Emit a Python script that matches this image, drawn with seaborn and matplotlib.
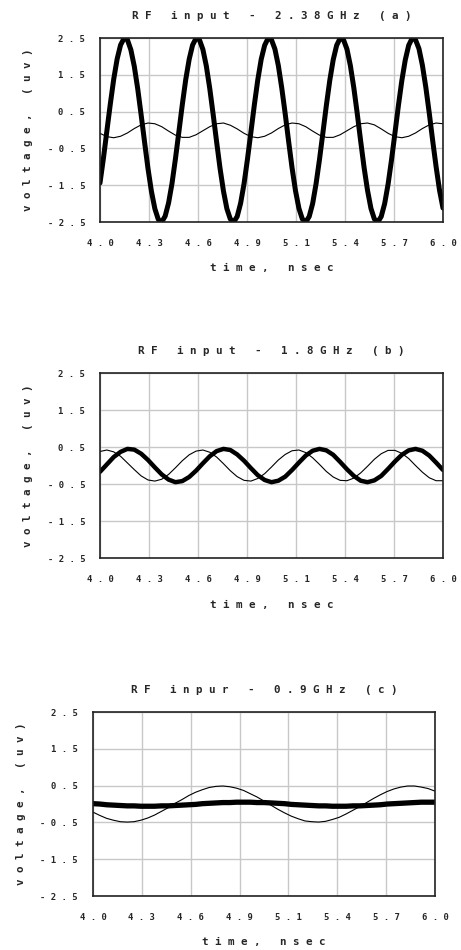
import matplotlib
matplotlib.use('Agg')
import matplotlib.pyplot as plt
import numpy as np
import seaborn as sns

# sample times (ns), shared by most traces
time_ns = [4.00, 4.04, 4.08, 4.12, 4.16, 4.20, 4.24, 4.28, 4.32, 4.36,
           4.40, 4.44, 4.48, 4.52, 4.56, 4.60, 4.64, 4.68, 4.72, 4.76,
           4.80, 4.84, 4.88, 4.92, 4.96, 5.00, 5.04, 5.08, 5.12, 5.16,
           5.20, 5.24, 5.28, 5.32, 5.36, 5.40, 5.44, 5.48, 5.52, 5.56,
           5.60, 5.64, 5.68, 5.72, 5.76, 5.80, 5.84, 5.88, 5.92, 5.96, 6.00]

# finer sampling for the large 2.38 GHz trace
time_fine = [4.00, 4.02, 4.04, 4.06, 4.08, 4.10, 4.12, 4.14, 4.16, 4.18,
             4.20, 4.22, 4.24, 4.26, 4.28, 4.30, 4.32, 4.34, 4.36, 4.38,
             4.40, 4.42, 4.44, 4.46, 4.48, 4.50, 4.52, 4.54, 4.56, 4.58,
             4.60, 4.62, 4.64, 4.66, 4.68, 4.70, 4.72, 4.74, 4.76, 4.78,
             4.80, 4.82, 4.84, 4.86, 4.88, 4.90, 4.92, 4.94, 4.96, 4.98,
             5.00, 5.02, 5.04, 5.06, 5.08, 5.10, 5.12, 5.14, 5.16, 5.18,
             5.20, 5.22, 5.24, 5.26, 5.28, 5.30, 5.32, 5.34, 5.36, 5.38,
             5.40, 5.42, 5.44, 5.46, 5.48, 5.50, 5.52, 5.54, 5.56, 5.58,
             5.60, 5.62, 5.64, 5.66, 5.68, 5.70, 5.72, 5.74, 5.76, 5.78,
             5.80, 5.82, 5.84, 5.86, 5.88, 5.90, 5.92, 5.94, 5.96, 5.98, 6.00]

# (a) 2.38 GHz
a_thick = [-1.44, -0.77, -0.03, 0.70, 1.38, 1.93, 2.31, 2.49, 2.45, 2.18,
           1.73, 1.12, 0.41, -0.33, -1.05, -1.67, -2.14, -2.43, -2.50, -2.34,
           -1.98, -1.45, -0.78, -0.05, 0.69, 1.37, 1.92, 2.31, 2.49, 2.45,
           2.19, 1.74, 1.13, 0.42, -0.32, -1.04, -1.66, -2.14, -2.42, -2.50,
           -2.35, -1.99, -1.46, -0.79, -0.06, 0.68, 1.36, 1.92, 2.30, 2.49,
           2.45, 2.20, 1.75, 1.14, 0.44, -0.31, -1.03, -1.65, -2.13, -2.42,
           -2.50, -2.35, -2.00, -1.46, -0.80, -0.07, 0.67, 1.35, 1.91, 2.30,
           2.49, 2.45, 2.20, 1.75, 1.15, 0.45, -0.30, -1.02, -1.64, -2.13,
           -2.42, -2.50, -2.35, -2.00, -1.47, -0.81, -0.08, 0.66, 1.34, 1.90,
           2.30, 2.49, 2.45, 2.21, 1.76, 1.16, 0.46, -0.29, -1.00, -1.64, -2.12]
a_thin = [-0.09, -0.18, -0.21, -0.17, -0.08, 0.04, 0.14, 0.19, 0.17, 0.09,
          -0.03, -0.14, -0.20, -0.20, -0.13, -0.02, 0.09, 0.17, 0.19, 0.13,
          0.03, -0.09, -0.18, -0.21, -0.17, -0.08, 0.04, 0.14, 0.19, 0.17,
          0.09, -0.03, -0.14, -0.20, -0.20, -0.13, -0.02, 0.09, 0.17, 0.19,
          0.14, 0.03, -0.09, -0.18, -0.21, -0.17, -0.08, 0.04, 0.14, 0.19, 0.17]

# (b) 1.8 GHz
b_thick = [-0.17, 0.03, 0.23, 0.37, 0.45, 0.43, 0.32, 0.15, -0.05, -0.24,
           -0.38, -0.45, -0.42, -0.31, -0.14, 0.06, 0.25, 0.39, 0.45, 0.42,
           0.30, 0.13, -0.07, -0.26, -0.39, -0.45, -0.41, -0.30, -0.12, 0.08,
           0.27, 0.40, 0.45, 0.41, 0.29, 0.10, -0.10, -0.28, -0.41, -0.45,
           -0.40, -0.28, -0.09, 0.11, 0.29, 0.41, 0.45, 0.40, 0.27, 0.08, -0.12]
b_thin = [0.38, 0.42, 0.37, 0.25, 0.07, -0.11, -0.28, -0.39, -0.42, -0.37,
          -0.24, -0.06, 0.13, 0.29, 0.39, 0.42, 0.36, 0.23, 0.05, -0.14,
          -0.30, -0.40, -0.42, -0.35, -0.22, -0.04, 0.15, 0.30, 0.40, 0.42,
          0.35, 0.21, 0.03, -0.16, -0.31, -0.40, -0.41, -0.34, -0.20, -0.02,
          0.17, 0.32, 0.41, 0.41, 0.33, 0.19, 0.00, -0.18, -0.33, -0.41, -0.41]

# (c) 0.9 GHz
c_thick = [0.01, 0.00, -0.02, -0.03, -0.04, -0.05, -0.05, -0.06, -0.06, -0.06,
           -0.05, -0.05, -0.04, -0.03, -0.02, -0.01, 0.01, 0.02, 0.03, 0.04,
           0.04, 0.05, 0.05, 0.05, 0.04, 0.04, 0.03, 0.02, 0.01, -0.01,
           -0.02, -0.03, -0.04, -0.05, -0.05, -0.06, -0.06, -0.06, -0.05, -0.05,
           -0.04, -0.03, -0.02, 0.00, 0.01, 0.02, 0.03, 0.04, 0.05, 0.05, 0.05]
c_thin = [-0.22, -0.31, -0.39, -0.44, -0.48, -0.49, -0.48, -0.44, -0.38, -0.30,
          -0.20, -0.10, 0.02, 0.12, 0.23, 0.32, 0.39, 0.45, 0.48, 0.49,
          0.47, 0.43, 0.37, 0.28, 0.19, 0.08, -0.03, -0.14, -0.24, -0.33,
          -0.40, -0.46, -0.48, -0.49, -0.47, -0.42, -0.36, -0.27, -0.17, -0.07,
          0.04, 0.15, 0.25, 0.34, 0.41, 0.46, 0.49, 0.49, 0.46, 0.42, 0.35]

titles = ['RF input - 2.38GHz (a)', 'RF input - 1.8GHz (b)', 'RF inpur - 0.9GHz (c)']
x_tick_labels = ['4.0', '4.3', '4.6', '4.9', '5.1', '5.4', '5.7', '6.0']
y_tick_labels = ['-2.5', '-1.5', '-0.5', '0.5', '1.5', '2.5']
x_label = 'time, nsec'
y_label = 'voltage, (uv)'


def spaced(s):
    return ' '.join(s)


sns.set_style('white')
plt.rcParams['font.family'] = ['DejaVu Sans Mono', 'DejaVu Sans']
plt.rcParams['font.weight'] = 'bold'

fig = plt.figure(figsize=(4.61, 9.5), dpi=100)

# axes boxes in figure fractions: left, bottom, width, height
boxes = [(0.2169, 0.7663, 0.7440, 0.1937),
         (0.2169, 0.4126, 0.7440, 0.1947),
         (0.2017, 0.0568, 0.7419, 0.1937)]
panels = [(time_fine, a_thick, a_thin, 3.6),
          (time_ns, b_thick, b_thin, 3.2),
          (time_ns, c_thick, c_thin, 3.8)]

for box, title, (t_thick, thick, thin, lw) in zip(boxes, titles, panels):
    ax = fig.add_axes(box)
    sns.lineplot(x=time_ns, y=thin, ax=ax, color='black', linewidth=0.8)
    sns.lineplot(x=t_thick, y=thick, ax=ax, color='black', linewidth=lw)

    ax.set_xlim(4.0, 6.0)
    ax.set_ylim(-2.5, 2.5)
    ax.set_xticks(np.linspace(4.0, 6.0, 8))
    ax.set_xticks(np.linspace(4.0 + 1 / 7, 6.0 - 1 / 7, 7), minor=True)
    ax.set_xticklabels([spaced(l) for l in x_tick_labels])
    ax.set_yticks([-2.5, -1.5, -0.5, 0.5, 1.5, 2.5])
    ax.set_yticks([-2, -1, 0, 1, 2], minor=True)
    ax.set_yticklabels([spaced(l) for l in y_tick_labels])

    ax.grid(True, which='major', color='#c8c8c8', linewidth=1.0)
    ax.set_axisbelow(True)
    for sp in ax.spines.values():
        sp.set_color('#222222')
        sp.set_linewidth(1.2)

    ax.tick_params(axis='both', which='major', direction='out', length=7.2,
                   width=1.1, color='#222222', labelsize=6.4)
    ax.tick_params(axis='both', which='minor', direction='out', length=3.6,
                   width=1.1, color='#222222')
    ax.tick_params(axis='x', which='major', pad=5)
    ax.tick_params(axis='y', which='major', pad=3.5)

    ax.set_title(spaced(title), fontsize=7.8, fontweight='bold', pad=14)
    ax.set_xlabel(spaced(x_label), fontsize=7.8, fontweight='bold')
    ax.set_ylabel(spaced(y_label), fontsize=7.8, fontweight='bold')
    ax.xaxis.set_label_coords(0.5, -0.225)
    ax.yaxis.set_label_coords(-0.195, 0.5)

fig.savefig('out.png', dpi=100, facecolor='white')
plt.close(fig)
